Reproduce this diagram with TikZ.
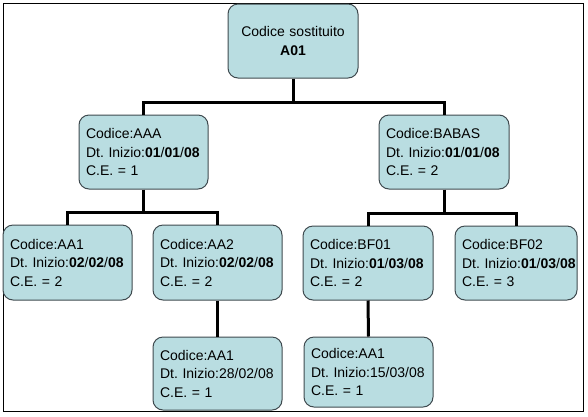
\documentclass[tikz,border=0pt]{standalone}
\usepackage{fontspec}
\setmainfont{Liberation Sans}
\definecolor{boxfill}{RGB}{185,221,225}
\definecolor{boxline}{RGB}{63,74,79}
\newcommand{\dtin}[1]{\mbox{Dt.\ Inizio:#1}}
\begin{document}
\begin{tikzpicture}[x=1pt,y=-1pt,
  box/.style={draw=boxline, fill=boxfill, line width=1pt, rounded corners=10pt,
    inner xsep=7pt, inner ysep=0pt, align=left,
    font=\fontsize{14}{18.5}\selectfont},
  conn/.style={draw=black, line width=3pt}]
\useasboundingbox (0,0) rectangle (588,416);
\draw[black, line width=1pt] (3,3) rectangle (583,411);

\node[box, align=center, text width=116pt, minimum height=74pt,
  font=\fontsize{14}{19.5}\selectfont] (root) at (293,41)
  {Codice sostituito\\\textbf{A01}};

\node[box, text width=115pt, minimum height=74pt] (aaa) at (143.5,152)
  {Codice:AAA\\\dtin{\textbf{01}/\textbf{01}/\textbf{08}}\\C.E. = 1};
\node[box, text width=116pt, minimum height=74pt] (babas) at (444,152)
  {Codice:BABAS\\\dtin{\textbf{01}/\textbf{01}/\textbf{08}}\\C.E. = 2};

\node[box, text width=115pt, minimum height=75pt] (aa1) at (67.5,262.5)
  {Codice:AA1\\\dtin{\textbf{02}/\textbf{02}/\textbf{08}}\\C.E. = 2};
\node[box, text width=115pt, minimum height=75pt] (aa2) at (217.5,262.5)
  {Codice:AA2\\\dtin{\textbf{02}/\textbf{02}/\textbf{08}}\\C.E. = 2};
\node[box, text width=116pt, minimum height=74pt] (bf01) at (368,263)
  {Codice:BF01\\\dtin{\textbf{01}/\textbf{03}/\textbf{08}}\\C.E. = 2};
\node[box, text width=108pt, minimum height=74pt] (bf02) at (516,263)
  {Codice:BF02\\\dtin{\textbf{01}/\textbf{03}/\textbf{08}}\\C.E. = 3};

\node[box, text width=115pt, minimum height=73pt] (aa1b) at (217.5,373.5)
  {Codice:AA1\\\dtin{28/02/08}\\C.E. = 1};
\node[box, text width=115pt, minimum height=70pt] (aa1c) at (368.5,372)
  {Codice:AA1\\\dtin{15/03/08}\\C.E. = 1};

\coordinate (j0) at (293,102.5);
\coordinate (j1) at (143.5,212.5);
\coordinate (j2) at (444,213.5);

\draw[conn] (root.south) -- (j0);
\draw[conn] (aaa.north) |- (j0) -| (babas.north);
\draw[conn] (aaa.south) -- (j1);
\draw[conn] (aa1.north) |- (j1) -| (aa2.north);
\draw[conn] (babas.south) -- (j2);
\draw[conn] (bf01.north) |- (j2) -| (bf02.north);
\draw[conn] (aa2.south) -- (aa1b.north);
\draw[conn] (bf01.south) -- (aa1c.north);
\end{tikzpicture}
\end{document}
